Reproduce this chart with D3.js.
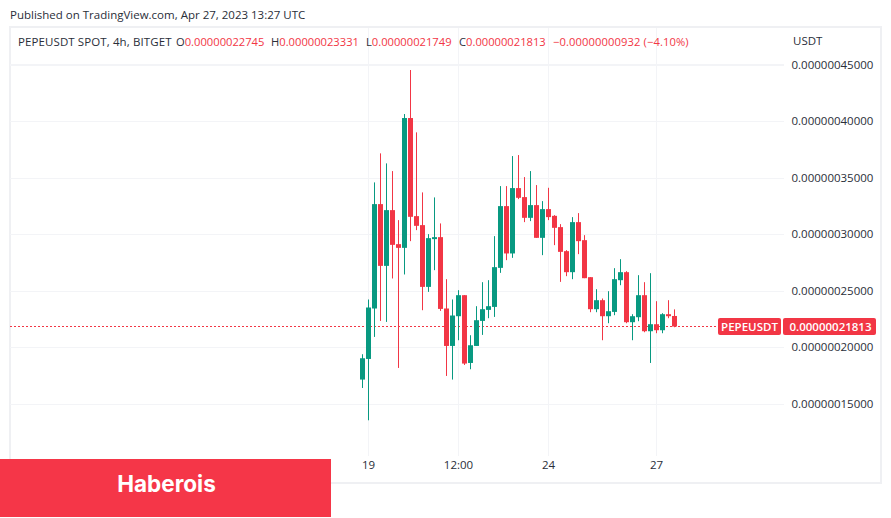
<!DOCTYPE html>
<html><head><meta charset="utf-8">
<script src="https://cdn.jsdelivr.net/npm/d3@7"></script>
<style>
html,body{margin:0;padding:0;background:#fff}
svg{display:block}
text{font-family:"Open Sans","Noto Sans",sans-serif;font-size:11.5px;fill:#2a2e39}
</style></head><body>
<svg id="c" width="891" height="518"></svg>
<script>
// prices in units of 1e-11 USDT
const opens=[17118,18943,23407,32645,27180,32113,29102,28774,40262,31582,30785,25320,29545,29722,23407,20094,22725,24585,18588,20094,22309,23284,23548,27003,32468,28278,34062,33265,31431,32556,29660,32202,31608,30608,28482,26622,31050,29456,26179,23345,24142,22725,23106,25913,26622,22194,22637,24585,21396,22017,21485,22902,22745];
const highs=[19359,24204,34567,37135,36250,35568,31228,40616,44513,38995,33681,29988,33238,30935,26002,24204,25028,24585,21042,23611,25736,25913,29811,34239,34239,36896,36985,35036,35568,34328,32910,34089,31670,30873,28571,31493,31848,29899,26179,25116,24293,24939,26976,27773,26710,22902,26356,25736,26533,24053,22991,24142,23331];
const lows=[16374,13514,20892,22309,22220,26064,18146,26418,29368,30342,23256,24877,26799,23194,17437,17118,20599,18411,18030,20094,21069,22548,22662,26560,27685,27889,33087,31050,31139,29660,28128,31228,29013,25763,26268,26002,28217,26090,23079,23079,20599,22105,22814,25470,22105,20599,22282,21308,18588,21219,21219,22548,21749];
const closes=[19005,23495,32645,27180,32113,29040,28774,40262,31520,30723,25320,29633,29722,23371,20094,22787,24585,18535,20156,22371,23345,23611,27065,32468,28278,34062,33203,31431,32556,29660,32202,31493,30546,28420,26622,31050,29368,26090,23345,24142,22725,23168,26002,26622,22194,22725,24585,21396,22017,21485,22902,22725,21813];
const priceTicks=[45000,40000,35000,30000,25000,20000,15000];
const timeTickIndex=[1,16,31,49];
const timeTickLabels=["19","12:00","24","27"];
const lastClose=21813;
const publishedText="Published on TradingView.com, Apr 27, 2023 13:27 UTC";
const titleText="PEPEUSDT SPOT, 4h, BITGET";
const ohlcNames=["O","H","L","C"];
const ohlcValues=["0.00000022745","0.00000023331","0.00000021749","0.00000021813"];
const changeText="\u22120.00000000932 (\u22124.10%)";
const unitText="USDT";
const symbolText="PEPEUSDT";
const brandText="Haberois";

const UP="#089981",DOWN="#F23645",GRID="#f3f4f7",BORDER="#eff0f3";
const svg=d3.select("#c");
const fmt=v=>(v*1e-11).toFixed(11);
const x=d3.scaleLinear().domain([0,52]).range([362.5,674.5]);
const y=d3.scaleLinear().domain([45000,15000]).range([64.5,403.5]);
const left=10,right=881,top0=27,head=64,bottom=483,axisX=784;

// frame
svg.append("rect").attr("x",left).attr("y",top0).attr("width",right-left).attr("height",bottom-top0).attr("fill","#fff").attr("stroke",BORDER).attr("stroke-width",2);

// grid
const plot=svg.append("g");
plot.selectAll("line.h").data(priceTicks).join("line").attr("class","h")
  .attr("x1",left).attr("x2",axisX).attr("y1",d=>Math.round(y(d))+.5).attr("y2",d=>Math.round(y(d))+.5).attr("stroke",GRID);
plot.selectAll("line.v").data(timeTickIndex).join("line").attr("class","v")
  .attr("x1",d=>Math.floor(x(d))+.5).attr("x2",d=>Math.floor(x(d))+.5).attr("y1",top0+1).attr("y2",456).attr("stroke",GRID);

// last price line
const ly=Math.floor(y(lastClose));
svg.append("line").attr("x1",left).attr("x2",718).attr("y1",ly+.5).attr("y2",ly+.5)
  .attr("stroke",DOWN).attr("stroke-width",1).attr("stroke-dasharray","2 2");

// candles
const idx=d3.range(opens.length);
const col=i=>closes[i]>=opens[i]?UP:DOWN;
const g=svg.append("g");
g.selectAll("line.w").data(idx).join("line").attr("class","w")
  .attr("x1",i=>Math.floor(x(i))+.5).attr("x2",i=>Math.floor(x(i))+.5)
  .attr("y1",i=>y(highs[i])).attr("y2",i=>y(lows[i])).attr("stroke",col);
g.selectAll("rect").data(idx).join("rect")
  .attr("x",i=>Math.floor(x(i))-2).attr("width",5)
  .attr("y",i=>y(Math.max(opens[i],closes[i])))
  .attr("height",i=>Math.max(1,Math.abs(y(opens[i])-y(closes[i])))).attr("fill",col);

// price axis
const ya=d3.axisRight(y).tickValues(priceTicks).tickFormat(fmt).tickSize(0).tickPadding(0);
const yg=svg.append("g").attr("transform","translate(791.5,0)").call(ya);
yg.select(".domain").remove();
yg.selectAll("text").attr("fill","#2a2e39");

// time axis
const xa=d3.axisBottom(x).tickValues(timeTickIndex).tickFormat((d,i)=>timeTickLabels[i]).tickSize(0).tickPadding(0);
const xg=svg.append("g").attr("transform","translate(-0.5,461)").call(xa);
xg.select(".domain").remove();
xg.selectAll("text").attr("fill","#2a2e39");

// header
svg.append("line").attr("x1",left).attr("x2",axisX).attr("y1",64.5).attr("y2",64.5).attr("stroke",GRID);
svg.append("text").attr("x",10).attr("y",19).text(publishedText);
svg.append("text").attr("x",18).attr("y",46).text(titleText).style("letter-spacing","0.1px");
const ohlcX=[176,271,366,459];
ohlcNames.forEach((n,i)=>{
  const t=svg.append("text").attr("x",ohlcX[i]).attr("y",46).style("font-size","11.2px");
  t.append("tspan").text(n);
  t.append("tspan").text(ohlcValues[i]).style("fill",DOWN);
});
svg.append("text").attr("x",553).attr("y",46).text(changeText).style("fill",DOWN).style("font-size","11.2px").style("letter-spacing","0.1px");
svg.append("text").attr("x",793).attr("y",45).text(unitText);

// last price labels
svg.append("rect").attr("x",718).attr("y",ly-8).attr("width",63).attr("height",17).attr("rx",2).attr("fill",DOWN);
svg.append("rect").attr("x",783).attr("y",ly-8).attr("width",93).attr("height",17).attr("rx",2).attr("fill",DOWN);
svg.append("text").attr("x",749.5).attr("y",ly+4.5).attr("text-anchor","middle").text(symbolText).style("fill","#fff").style("font-weight",600);
svg.append("text").attr("x",830.5).attr("y",ly+4.5).attr("text-anchor","middle").text(fmt(lastClose)).style("fill","#fff").style("font-weight",600);

// brand
svg.append("rect").attr("x",0).attr("y",459).attr("width",331).attr("height",58).attr("fill","#F53648");
svg.append("text").attr("x",166.5).attr("y",492).attr("text-anchor","middle").text(brandText)
  .style("fill","#fff").style("font-family","Inter,Lato,sans-serif").style("font-weight",700).style("font-size","22.5px");
</script></body></html>
